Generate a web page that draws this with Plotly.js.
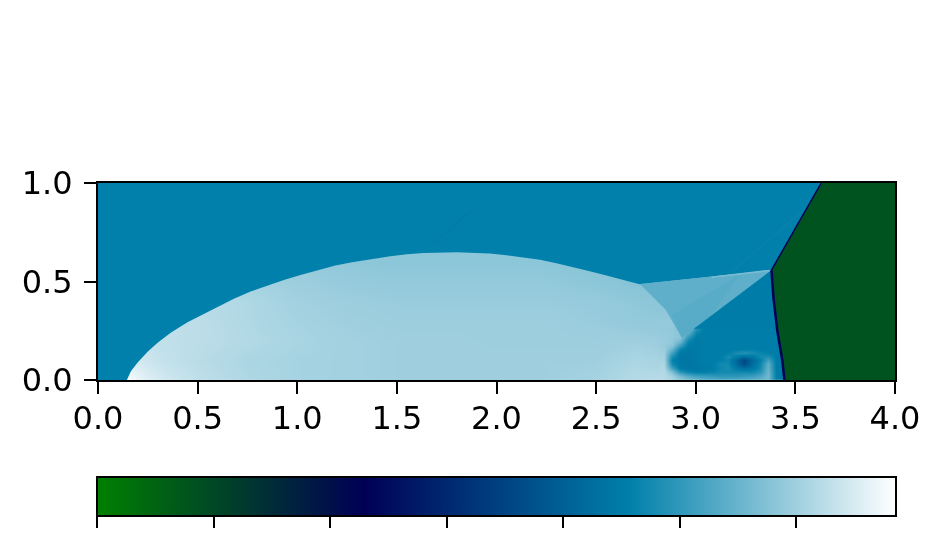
<!DOCTYPE html>
<html>
<head>
<meta charset="utf-8">
<script src="https://cdn.plot.ly/plotly-3.0.1.min.js"></script>
<style>
html,body{margin:0;padding:0;background:#fff}
#chart{width:942px;height:533px;filter:blur(0.5px)}
</style>
</head>
<body>
<div id="chart"></div>
<script>
// Field: broad post-shock region
const fieldX = [0,0.15,0.25,0.35,0.5,0.75,1,1.25,1.5,1.75,2,2.25,2.5,2.7,2.85,3.5];
const fieldY = [0,0.1,0.2,0.3,0.4,0.5,0.6,0.7];
const fieldZ = [
 [11.9,11.9,11.5,11.25,11.0,10.75,10.6,10.55,10.5,10.5,10.5,10.5,10.6,10.85,10.9,10.9],
 [11.4,11.4,11.2,11.05,10.9,10.7,10.6,10.55,10.5,10.5,10.5,10.5,10.5,10.7,10.6,10.6],
 [11.1,11.1,11.05,11.0,10.95,10.8,10.65,10.55,10.5,10.5,10.45,10.45,10.45,10.5,10.4,10.4],
 [11.0,11.0,11.0,11.0,10.95,10.75,10.6,10.5,10.45,10.45,10.45,10.45,10.4,10.3,10.3,10.3],
 [10.9,10.9,10.9,10.9,10.9,10.75,10.55,10.45,10.4,10.4,10.4,10.4,10.35,10.25,10.2,10.2],
 [10.7,10.7,10.7,10.7,10.7,10.6,10.45,10.35,10.3,10.3,10.3,10.3,10.2,10.1,10.0,10.0],
 [10.5,10.5,10.5,10.5,10.5,10.4,10.35,10.25,10.2,10.2,10.2,10.2,10.1,10.0,10.0,10.0],
 [10.2,10.2,10.2,10.2,10.2,10.2,10.2,10.2,10.2,10.2,10.2,10.2,10.2,10.2,10.2,10.2]
];
// Field: roll-up vortex behind the Mach stem
const vortexX = [2.84,2.88,2.92,2.96,3.00,3.04,3.08,3.12,3.16,3.20,3.24,3.28,3.32,3.36,3.40,3.44,3.48];
const vortexY = [0,0.02,0.04,0.06,0.08,0.10,0.12,0.14,0.16,0.18,0.20,0.22,0.24,0.26];
const vortexZ = [
 [10.9,10.7,10.3,10.0,9.7,9.5,9.35,9.3,9.3,9.35,9.4,9.5,9.6,9.8,8.0,7.8,7.8],
 [10.85,10.5,9.8,9.3,9.0,8.9,8.8,8.7,8.7,8.7,8.8,8.9,9.2,9.8,8.0,7.8,7.8],
 [10.8,10.0,8.7,8.2,8.0,8.0,8.1,8.3,8.3,8.3,8.3,8.3,8.6,9.7,7.9,7.8,7.8],
 [10.75,9.0,7.8,7.7,7.7,7.8,7.9,8.2,8.4,7.8,7.4,7.7,8.3,9.6,7.9,7.8,7.8],
 [10.7,8.3,7.7,7.7,7.8,7.9,7.9,8.3,8.3,7.4,6.4,7.4,8.2,9.5,7.9,7.8,7.8],
 [10.6,8.1,7.7,7.7,7.8,7.9,7.9,8.0,8.2,7.3,6.3,7.3,8.0,9.0,7.9,7.8,7.8],
 [10.55,8.4,7.7,7.7,7.8,7.9,7.9,7.9,8.4,7.9,7.4,7.7,8.3,8.5,7.9,7.8,7.8],
 [10.5,9.0,7.8,7.7,7.8,7.9,7.9,7.9,8.0,8.4,8.6,8.4,8.2,8.0,7.9,7.8,7.8],
 [10.45,9.7,8.2,7.7,7.8,7.9,7.9,7.9,7.9,7.9,8.0,8.0,7.9,7.9,7.9,7.8,7.8],
 [10.4,10.2,9.1,7.9,7.8,7.9,7.9,7.9,7.9,7.9,7.9,7.9,7.9,7.9,7.9,7.8,7.8],
 [10.4,10.3,9.8,8.2,7.8,7.9,7.9,7.9,7.9,7.9,7.9,7.9,7.9,7.9,7.9,7.8,7.8],
 [10.4,10.3,10.2,8.8,7.9,7.9,7.9,7.9,7.9,7.9,7.9,7.9,7.9,7.9,7.9,7.8,7.8],
 [10.35,10.3,10.2,9.5,8.2,7.9,7.9,7.9,7.9,7.9,7.9,7.9,7.9,7.9,7.9,7.8,7.8],
 [10.3,10.3,10.2,10.0,8.6,7.9,7.9,7.9,7.9,7.9,7.9,7.9,7.9,7.9,7.9,7.8,7.8]
];
// Curved bow shock, then slip line up to the triple point, then the incident shock
const upperX = [0,0.145,0.165,0.199,0.249,0.299,0.365,0.449,0.516,0.599,0.682,0.766,0.849,0.933,1.016,1.066,1.108,1.191,1.275,1.358,1.467,1.550,1.634,1.801,1.967,2.051,2.134,2.218,2.301,2.384,2.468,2.552,2.635,2.718,3.38,3.63,0];
const upperY = [0,0,0.044,0.089,0.144,0.189,0.240,0.293,0.328,0.371,0.412,0.449,0.479,0.508,0.533,0.546,0.559,0.581,0.598,0.612,0.628,0.638,0.645,0.648,0.642,0.633,0.623,0.610,0.593,0.574,0.552,0.530,0.508,0.486,0.558,1,1];
const topShockX = [3.63,3.38]; const topShockY = [1,0.558];
const stemLineX = [3.38,3.39,3.41,3.435,3.445]; const stemLineY = [0.558,0.417,0.246,0.095,0];
const wedgeX = [2.72,3.38,2.93,2.85];
const wedgeY = [0.487,0.558,0.215,0.355];
const bandX = [2.88,2.93,3.08,3.22];
const bandY = [0.33,0.215,0.33,0.535];
const glintX = [3.08,3.37]; const glintY = [0.522,0.556];
const stemX = [2.99,3.38,3.39,3.415];
const stemY = [0.26,0.558,0.417,0.26];
const streakAX = [3.18,3.555]; const streakAY = [0.548,0.874];
const streakBX = [1.68,1.87]; const streakBY = [0.69,0.86];
const tickLabels = ['0.0','0.5','1.0','1.5','2.0','2.5','3.0','3.5','4.0'];
const cbTicks = [0,1.75,3.5,5.25,7,8.75,10.5];
const zLow = 0, zHigh = 12;
const zUpper = 8, zRight = 1.4, zShock = 4, zWedge = 9.5, zBand = 9.4, zGlint = 9.9, zStem = 7.9;

const scale = [[0,'rgb(0,128,0)'],[1/3,'rgb(0,0,85)'],[2/3,'rgb(0,128,170)'],[1,'rgb(255,255,255)']];
function tone(z){
  const t=(z-zLow)/(zHigh-zLow);
  const r=Math.max(0,3*t-2), g=Math.abs(1.5*t-0.5), b=t;
  return `rgb(${Math.round(r*255)},${Math.round(g*255)},${Math.round(b*255)})`;
}
function patch(x,y,z){return {x,y,type:'scatter',mode:'lines',fill:'toself',fillcolor:tone(z),line:{width:0},hoverinfo:'skip',showlegend:false};}
function stroke(x,y,z,w){return {x,y,type:'scatter',mode:'lines',line:{color:tone(z),width:w},hoverinfo:'skip',showlegend:false};}

const traces = [
 {type:'heatmap',x:fieldX,y:fieldY,z:fieldZ,zmin:zLow,zmax:zHigh,zsmooth:'best',colorscale:scale,
  colorbar:{orientation:'h',xref:'paper',x:-0.00125,xanchor:'left',yref:'container',y:0.105,yanchor:'top',len:1.0025,lenmode:'fraction',thickness:39,thicknessmode:'pixels',
    xpad:0,ypad:0,outlinewidth:2,outlinecolor:'#000',tickmode:'array',tickvals:cbTicks,ticks:'outside',ticklen:11,tickwidth:2,tickcolor:'#000',showticklabels:false}},
 {type:'heatmap',x:vortexX,y:vortexY,z:vortexZ,zmin:zLow,zmax:zHigh,zsmooth:'best',colorscale:scale,showscale:false},
 patch(upperX,upperY,zUpper),
 patch(wedgeX,wedgeY,zWedge),
 patch(bandX,bandY,zBand),
 patch(stemX,stemY,zStem),
 patch(topShockX.concat(stemLineX.slice(1),[4,4]),topShockY.concat(stemLineY.slice(1),[0,1]),zRight),
 stroke(glintX,glintY,zGlint,1.5),
 stroke(streakAX,streakAY,8.12,1.5),
 stroke(streakBX,streakBY,7.92,1.5),
 stroke(topShockX,topShockY,zShock,1.5),
 stroke(stemLineX,stemLineY,zShock,2.5)
];
const font = {family:'"DejaVu Sans"',size:32,color:'#000'};
const layout = {
 width:942,height:533,showlegend:false,paper_bgcolor:'#fff',plot_bgcolor:'#fff',
 margin:{l:98,r:47,t:183,b:153,pad:0},font,
 xaxis:{range:[0,4],tickmode:'array',tickvals:[0,0.5,1,1.5,2,2.5,3,3.5,4],ticktext:tickLabels,ticks:'outside',ticklen:12,tickwidth:2,tickcolor:'#000',ticklabelstandoff:-3,
   showline:true,linewidth:2,linecolor:'#000',mirror:true,showgrid:false,zeroline:false,tickfont:font},
 yaxis:{range:[0,1],tickmode:'array',tickvals:[0,0.5,1],ticktext:['0.0','0.5','1.0'],ticks:'outside',ticklen:12,tickwidth:2,tickcolor:'#000',ticklabelstandoff:5,
   showline:true,linewidth:2,linecolor:'#000',mirror:true,showgrid:false,zeroline:false,tickfont:font}
};
Plotly.newPlot('chart',traces,layout,{displayModeBar:false,staticPlot:true});
</script>
</body>
</html>
